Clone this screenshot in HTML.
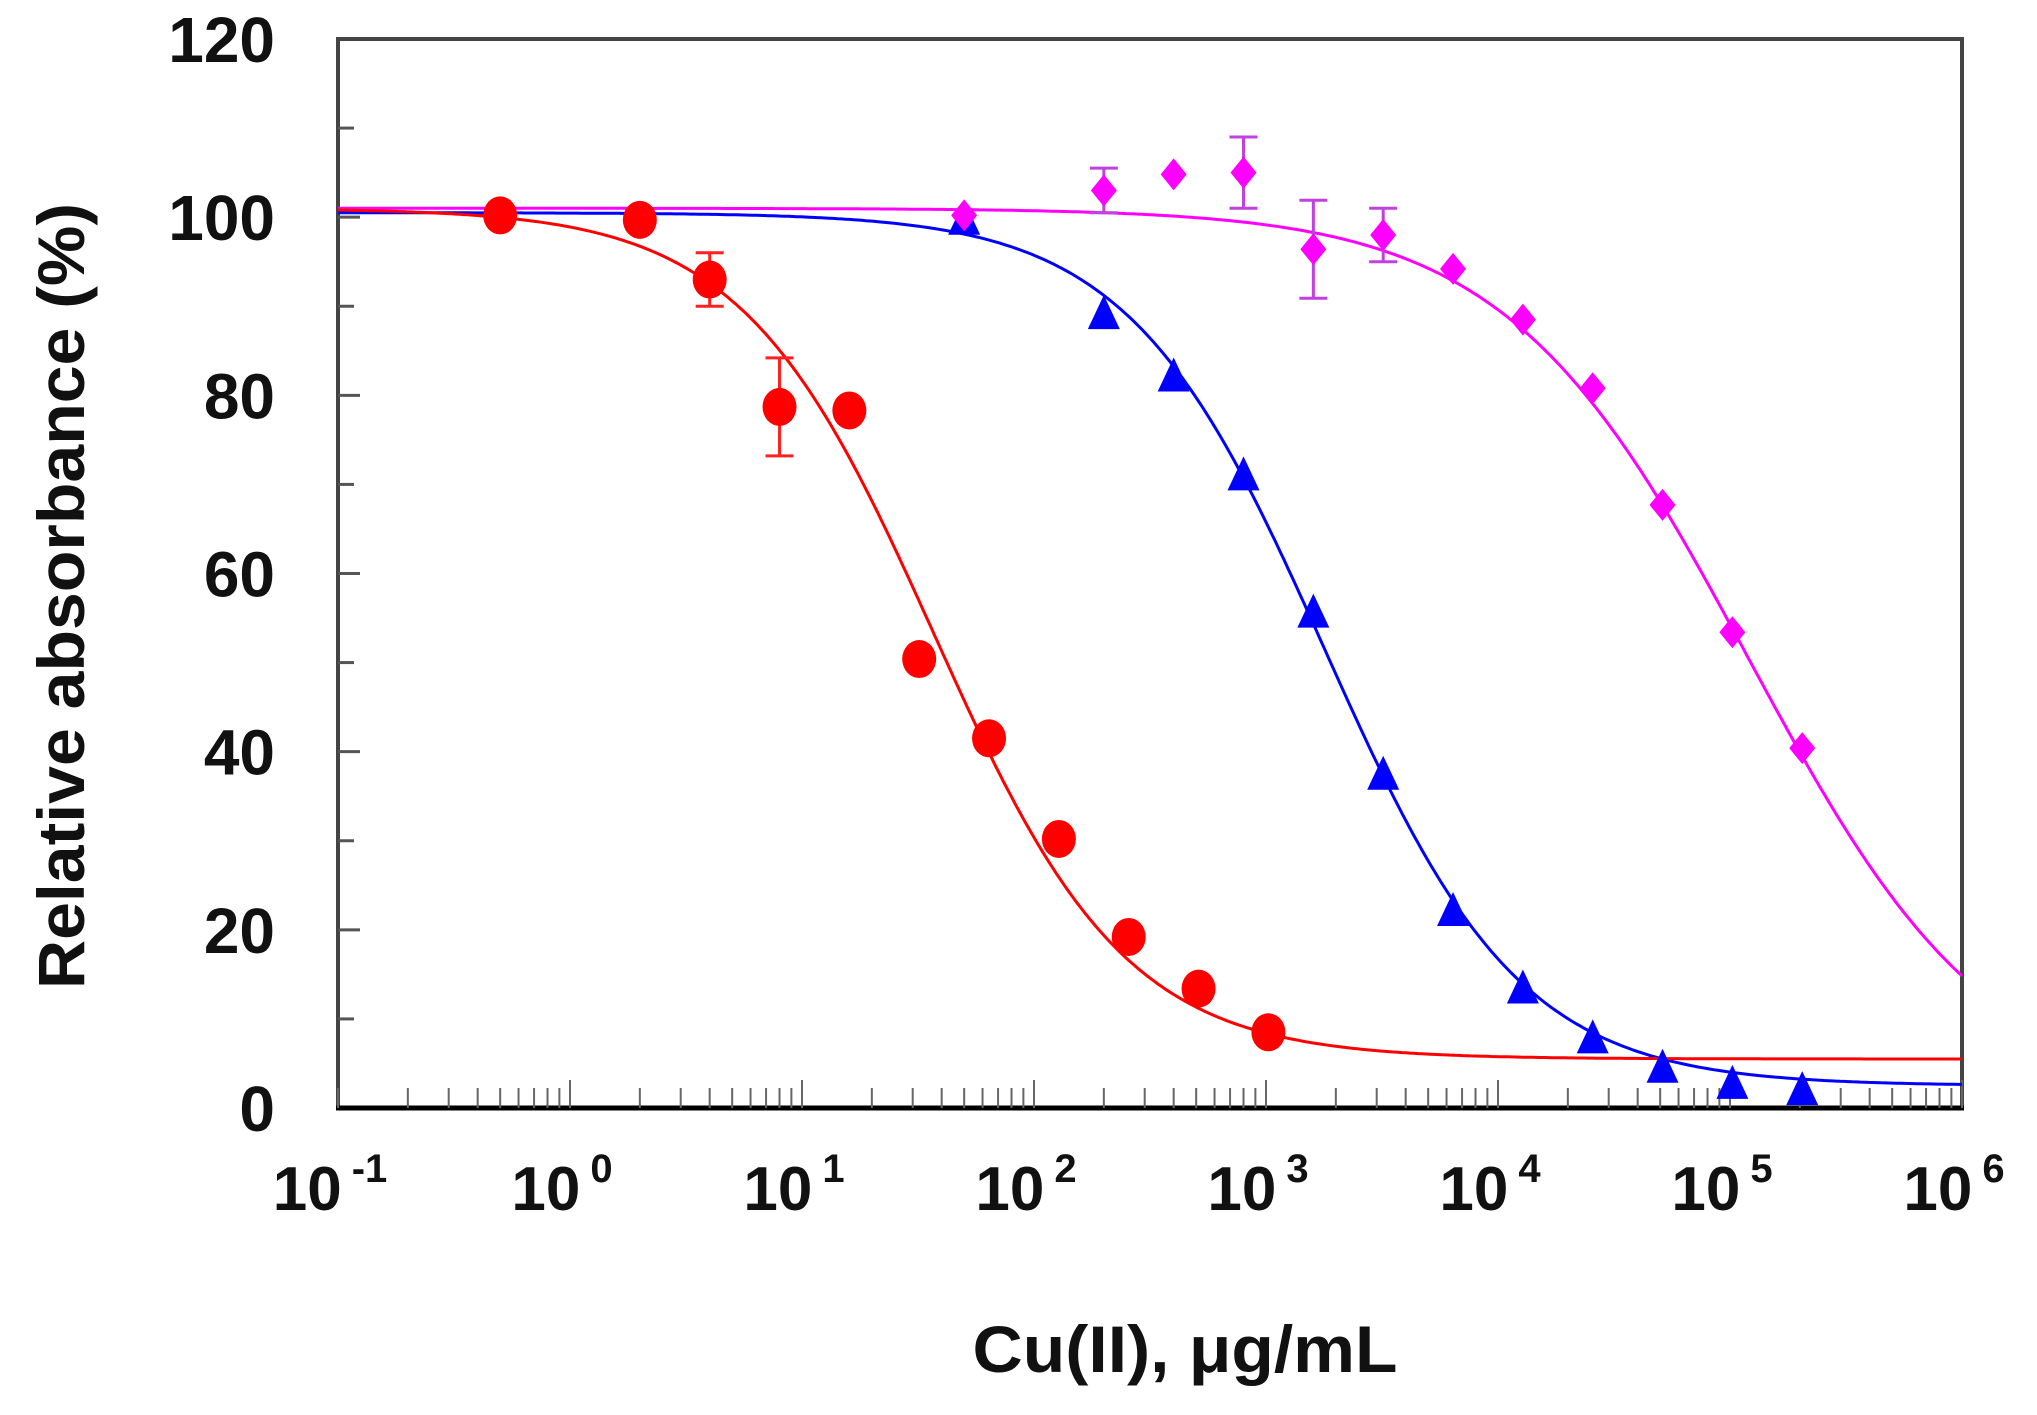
<!DOCTYPE html>
<html><head><meta charset="utf-8"><style>
html,body{margin:0;padding:0;background:#fff;}
svg{display:block;font-family:"Liberation Sans",sans-serif;font-weight:bold;}
</style></head><body>
<svg id="chart" width="2037" height="1415" viewBox="0 0 2037 1415" xmlns="http://www.w3.org/2000/svg">
<g id="axes"></g>
<g id="curves"></g>
<g id="marks"></g>
<text x="1185" y="1372" font-size="66" text-anchor="middle" fill="#111" textLength="425" lengthAdjust="spacingAndGlyphs">Cu(II), μg/mL</text>
<text x="0" y="0" font-size="66" text-anchor="middle" fill="#111" textLength="786" lengthAdjust="spacingAndGlyphs" transform="translate(84,596) rotate(-90)">Relative absorbance (%)</text>
</svg>
<script>
const yTicks=[0,20,40,60,80,100,120];
const xDecades=[-1,0,1,2,3,4,5,6];
const redX=[0.5,2,4,8,16,32,64,128,256,512,1024];
const redY=[100.2,99.7,93,78.7,78.3,50.4,41.5,30.2,19.2,13.4,8.5];
const redErr=[0,0,3,5.5,0,0,0,0,0,0,0];
const blueX=[50,200,400,800,1600,3200,6400,12800,25600,51200,102400,204800];
const blueY=[99.6,89,82,70.9,55.5,37.3,22,13.3,7.7,4.4,2.6,1.9];
const magX=[50,200,400,800,1600,3200,6400,12800,25600,51200,102400,204800];
const magY=[100.2,103,104.8,105,96.4,98,94.2,88.5,80.8,67.7,53.4,40.4];
const magErr=[0,2.5,0,4,5.5,3,0,0,0,0,0,0];
const redFit=[5.5,101,37,1.05];
const blueFit=[2.5,100.5,1790,1.03];
const magFit=[0,101,120000,0.83];

const L=338,R=1962,T=39,B=1108;
const sx=v=>L+(Math.log10(v)+1)/7*(R-L);
const sy=v=>B-v/120*(B-T);
const NS="http://www.w3.org/2000/svg";
function mk(tag,attrs,parent){const e=document.createElementNS(NS,tag);for(const k in attrs)e.setAttribute(k,attrs[k]);parent.appendChild(e);return e;}
const axes=document.getElementById('axes');
let f=mk('rect',{x:L,y:T,width:R-L,height:B-T,fill:'none',stroke:'#444','stroke-width':4},axes);


let bl=mk('line',{x1:L-2,y1:B,x2:R+2,y2:B,stroke:'#000','stroke-width':5},axes);


for(let v=10;v<120;v+=10){
 const t=mk('line',{x1:L,x2:L+(v%20?16:22),y1:sy(v),y2:sy(v),stroke:'#555','stroke-width':3},axes);
 
 
}
yTicks.forEach(v=>{
 const t=mk('text',{x:275,y:sy(v)+23,'font-size':64,'text-anchor':'end',fill:'#111'},axes);
 t.textContent=v;
 
 
});
for(let d=-1;d<6;d++){
 for(let m=1;m<=10;m++){
  const v=m*Math.pow(10,d);
  const x=sx(v);
  const t=mk('line',{x1:x,x2:x,y1:B,y2:B-(m==10?28:20),stroke:'#666','stroke-width':2},axes);
  
  
 }
}
xDecades.forEach(d=>{
 const x=sx(Math.pow(10,d));
 const t=mk('text',{x:x-8,y:1210,'font-size':62,'text-anchor':'middle',fill:'#111'},axes);
 t.textContent='10';
 const s=mk('tspan',{dx:10,dy:-28,'font-size':40},t);
 s.textContent=d<0?'-'+Math.abs(d):String(d);
 
 
});
const curves=document.getElementById('curves');
function fit(p,x){return p[0]+(p[1]-p[0])/(1+Math.pow(x/p[2],p[3]));}
function drawCurve(p,color,name){
 let d='';
 for(let i=0;i<=400;i++){const lx=-1+7*i/400;const x=Math.pow(10,lx);d+=(i?'L':'M')+sx(x).toFixed(1)+','+sy(fit(p,x)).toFixed(1);}
 const c=mk('path',{d:d,fill:'none',stroke:color,'stroke-width':3},curves);
 
 
}
drawCurve(magFit,'#ff00ff','magenta-fit-curve');
drawCurve(blueFit,'#0000ff','blue-fit-curve');
drawCurve(redFit,'#ff0000','red-fit-curve');
const marks=document.getElementById('marks');
function err(x,y,e,color){
 if(!e)return;
 const cx=sx(x),y1=sy(y+e),y2=sy(y-e);
 const g=mk('path',{d:`M${cx},${y1}V${y2}M${cx-14},${y1}H${cx+14}M${cx-14},${y2}H${cx+14}`,stroke:color,'stroke-width':3,fill:'none'},marks);
 
 
}
redX.forEach((x,i)=>{
 err(x,redY[i],redErr[i],'#ff2020');
 const c=mk('ellipse',{cx:sx(x),cy:sy(redY[i]),rx:17,ry:19,fill:'#ff0000'},marks);
 
 
});
blueX.forEach((x,i)=>{
 const cx=sx(x),cy=sy(blueY[i]);
 const t=mk('polygon',{points:`${cx},${cy-20} ${cx-16},${cy+14} ${cx+16},${cy+14}`,fill:'#0000ff'},marks);
 
 
});
magX.forEach((x,i)=>{
 err(x,magY[i],magErr[i],'#c040e0');
 const cx=sx(x),cy=sy(magY[i]);
 const t=mk('polygon',{points:`${cx},${cy-16} ${cx+13},${cy} ${cx},${cy+16} ${cx-13},${cy}`,fill:'#ff00ff'},marks);
 
 
});
</script>
</body></html>
